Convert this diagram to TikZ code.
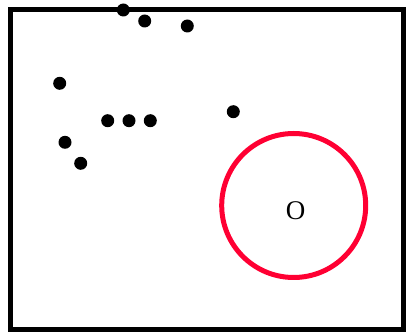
\documentclass[tikz,border=0pt]{standalone}
\usepackage{fontspec}
\setmainfont{Liberation Serif}
\definecolor{ringred}{RGB}{255,0,51}
\begin{document}
\begin{tikzpicture}[x=1pt,y=-1pt,
  dot/.style={circle,fill=black,inner sep=0pt,minimum size=13pt},
  frame/.style={draw=black,line width=5pt},
  ring/.style={circle,draw=ringred,line width=5pt,inner sep=0pt,minimum size=144pt},
  lbl/.style={font=\fontsize{27}{27}\selectfont,inner sep=0pt}]
\useasboundingbox (0,0) rectangle (408,334);
\draw[frame] (10,10) rectangle (403,330);
\node[ring] (ring) at (293.7,205.5) {};
\node[lbl] (o) at (295.5,210.5) {O};
\node[dot] (d1) at (123.3,10) {};
\node[dot] (d2) at (144.7,21) {};
\node[dot] (d3) at (187.3,26) {};
\node[dot] (d4) at (59.7,83.3) {};
\node[dot] (d5) at (233.3,111.7) {};
\node[dot] (d6) at (107.7,120.7) {};
\node[dot] (d7) at (129,120.7) {};
\node[dot] (d8) at (150.3,120.7) {};
\node[dot] (d9) at (65,142.3) {};
\node[dot] (d10) at (80.7,163.3) {};
\end{tikzpicture}
\end{document}
